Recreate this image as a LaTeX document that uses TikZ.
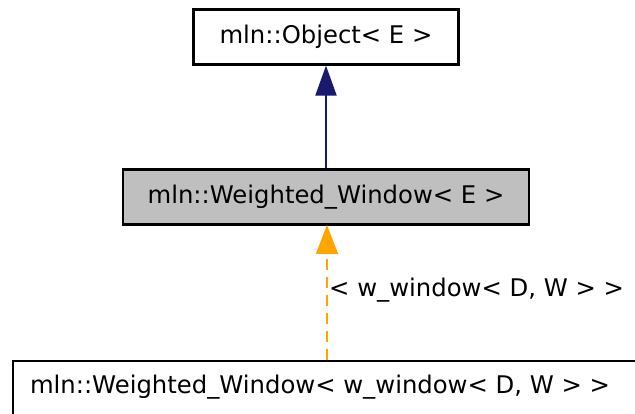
\documentclass[tikz,border=0pt]{standalone}
\usepackage{fontspec}
\setmainfont{DejaVu Sans}
\usetikzlibrary{arrows.meta}
\definecolor{navyedge}{HTML}{191970}
\definecolor{orangeedge}{HTML}{FFA500}
\definecolor{grayfill}{HTML}{BFBFBF}
\tikzset{
  cls/.style={draw=black, line width=2.2pt, inner sep=0pt, font=\fontsize{24.3}{27}\selectfont},
  inh/.style={draw=navyedge, line width=2pt, -{Triangle[length=30pt,width=21pt]}},
  tmpl/.style={draw=orangeedge, line width=2pt, dash pattern=on 11pt off 7pt, -{Triangle[length=29pt,width=22pt]}},
  lbl/.style={font=\fontsize{24.3}{27}\selectfont, inner sep=0pt, anchor=west}
}
\begin{document}
\begin{tikzpicture}[x=1pt,y=-1pt]
\useasboundingbox (0,0) rectangle (635,414);
\node[cls, minimum width=265pt, minimum height=55pt] (obj) at (326,37) {mln::Object< E >};
\node[cls, fill=grayfill, minimum width=406pt, minimum height=55pt] (ww) at (326,197) {mln::Weighted\_Window< E >};
\node[cls, minimum width=640pt, minimum height=60pt, anchor=north west] (wwd) at (12,360) {};
\node[font=\fontsize{24.3}{27}\selectfont, inner sep=0pt] (wwdt) at (320,387) {mln::Weighted\_Window< w\_window< D, W > >};
\draw[inh] (ww.north -| obj.south) -- (obj.south);
\coordinate (ts) at (327,360);
\coordinate (th) at (327,225);
\draw[tmpl] (ts) -- (th);
\node[lbl] (lab) at (329,290) {< w\_window< D, W > >};
\end{tikzpicture}
\end{document}
